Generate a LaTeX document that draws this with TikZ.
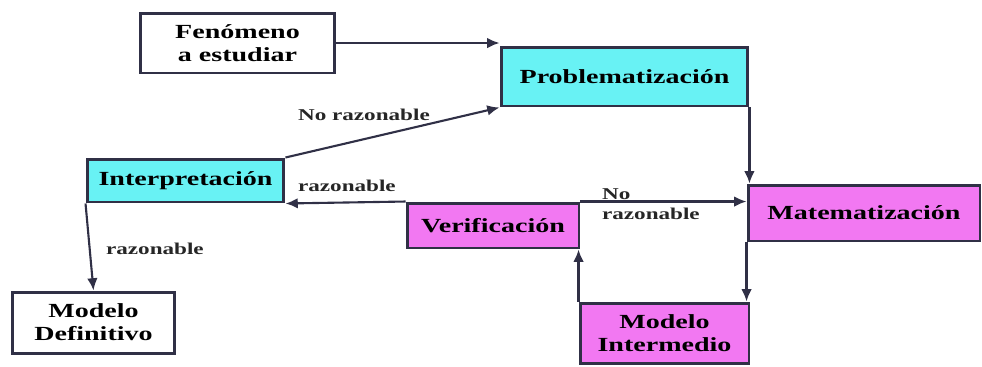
\documentclass[tikz,border=0pt]{standalone}
\usepackage{fontspec}
\setmainfont[FakeStretch=1.4]{Liberation Serif}
\usetikzlibrary{arrows.meta}

\definecolor{cyanbox}{RGB}{104,242,244}
\definecolor{pinkbox}{RGB}{242,120,242}
\definecolor{linecol}{RGB}{48,48,70}

\tikzset{
	box/.style={draw=linecol, line width=1.7pt, text=black, align=center, inner sep=2pt,
		font=\fontsize{11.4}{13}\selectfont\bfseries},
	arr/.style={-{Latex[length=7pt,width=6pt]}, draw=linecol, line width=1.2pt},
	lab/.style={font=\fontsize{9.4}{11.5}\selectfont\bfseries, text=black!85, inner sep=1pt}
}

\begin{document}
\begin{tikzpicture}[x=0.02cm, y=-0.02cm]
	\useasboundingbox (0,0) rectangle (982,366);

	\node[box, fill=white, minimum width=3.9cm, minimum height=1.2cm] (fen) at (237.5,43) {Fenómeno\\a estudiar};
	\node[box, fill=cyanbox, minimum width=4.94cm, minimum height=1.18cm] (prob) at (624.5,76.5) {Problematización};
	\node[box, fill=cyanbox, minimum width=3.94cm, minimum height=0.86cm] (interp) at (185.5,180.5) {Interpretación};
	\node[box, fill=pinkbox, minimum width=4.64cm, minimum height=1.12cm] (mate) at (864,213) {Matematización};
	\node[box, fill=pinkbox, minimum width=3.44cm, minimum height=0.9cm] (verif) at (493,225.5) {Verificación};
	\node[box, fill=pinkbox, minimum width=3.38cm, minimum height=1.2cm] (minter) at (664.5,333) {Modelo\\Intermedio};
	\node[box, fill=white, minimum width=3.26cm, minimum height=1.22cm] (mdef) at (93.5,322.5) {Modelo\\Definitivo};

	\draw[arr] (fen.east) -- (fen.east -| prob.west);
	\draw[arr] (interp.north east) -- (prob.south west);
	\draw[arr] (prob.south east) -- (prob.south east |- mate.north);
	\draw[arr] (verif.north east) -- (verif.north east -| mate.west);
	\draw[arr] (verif.north west) -- (interp.south east);
	\draw[arr] (mate.south west) -- (mate.south west |- minter.north);
	\draw[arr] (minter.north west) -- (minter.north west |- verif.south);
	\draw[arr] (interp.south west) -- (mdef.north);

	\node[lab, anchor=west] (l1) at (296,115) {No razonable};
	\node[lab, anchor=west] (l2) at (296,186) {razonable};
	\node[lab, anchor=west, align=left] (l3) at (600,204) {No\\razonable};
	\node[lab, anchor=west] (l4) at (104,249) {razonable};

\end{tikzpicture}
\end{document}
